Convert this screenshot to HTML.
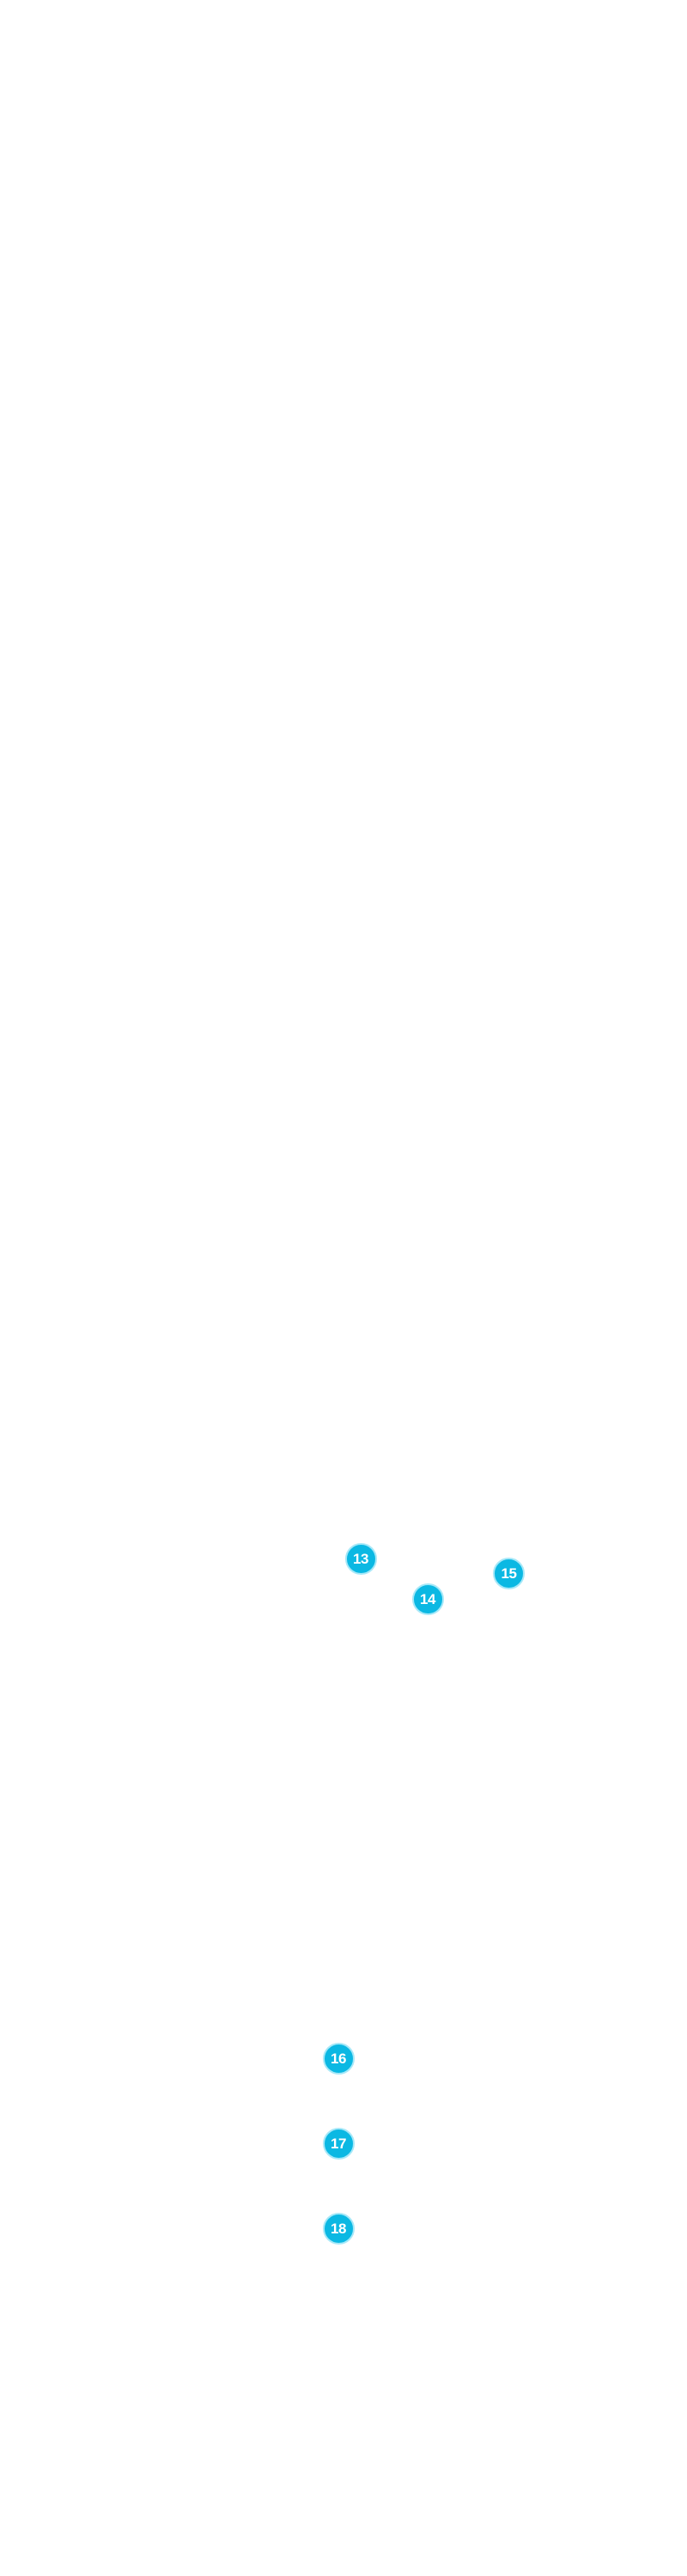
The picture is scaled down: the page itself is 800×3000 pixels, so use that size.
<!DOCTYPE html>
<html>
<head>
<meta charset="utf-8">
<style>
  html, body { margin:0; padding:0; }
  body { width:800px; height:3000px; background:#ffffff; position:relative; overflow:hidden; }
  .b {
    position:absolute; width:33px; height:33px; border-radius:50%;
    background:#0bb8e3; border:2px solid #a6e8f8;
    color:#fff; font-family:"Liberation Sans", sans-serif; font-weight:bold;
    font-size:17px; line-height:34px; text-align:center; letter-spacing:-0.5px;
  }
</style>
</head>
<body>
  <div class="b" style="left:401.5px; top:1796.5px;">13</div>
  <div class="b" style="left:479.5px; top:1844px;">14</div>
  <div class="b" style="left:574px; top:1814px;">15</div>
  <div class="b" style="left:375.5px; top:2379px;">16</div>
  <div class="b" style="left:375.5px; top:2477.5px;">17</div>
  <div class="b" style="left:375.5px; top:2576.5px;">18</div>
</body>
</html>
